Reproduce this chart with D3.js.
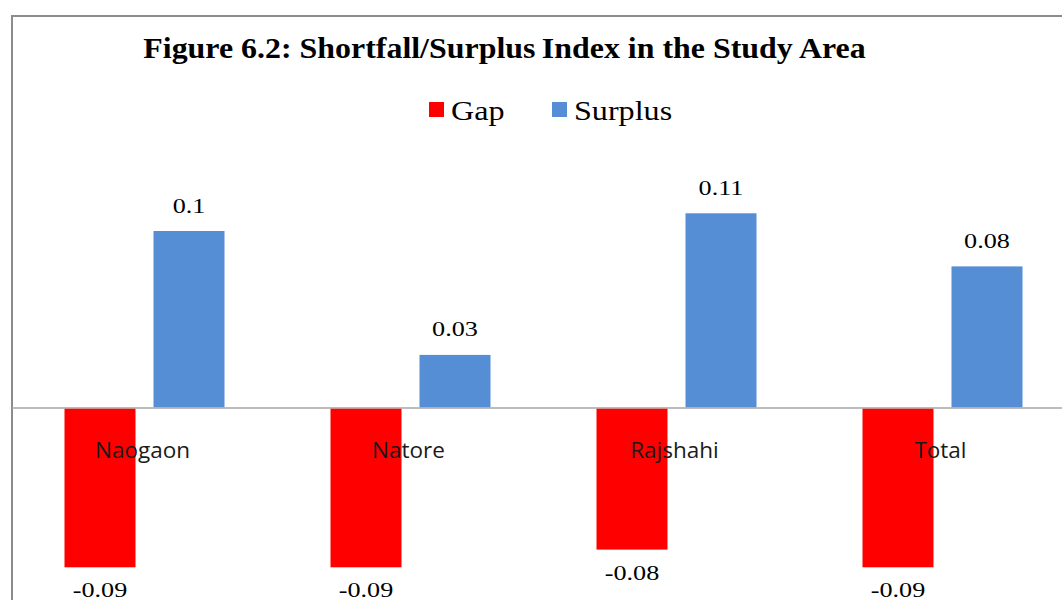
<!DOCTYPE html>
<html>
<head>
<meta charset="utf-8">
<script src="https://cdn.jsdelivr.net/npm/d3@7"></script>
<style>
  html, body { margin: 0; padding: 0; background: #fff; overflow: hidden; }
  svg { display: block; }
</style>
</head>
<body>
<svg id="chart"></svg>
<script>
// data
var districts = ["Naogaon", "Natore", "Rajshahi", "Total"];
var seriesNames = ["Gap", "Surplus"];
var gapValues = [-0.09, -0.09, -0.08, -0.09];
var surplusValues = [0.1, 0.03, 0.11, 0.08];
var seriesColors = ["#ff0000", "#558ed5"];

var width = 1062,
    height = 600;

// the serif texts in the source image are stretched sideways
var serifStretch = 1.19;

var svg = d3.select("#chart")
    .attr("width", width)
    .attr("height", height);

// frame (only left and top edges are visible in the crop)
svg.append("path")
    .attr("d", "M12,600 V16 H" + width)
    .attr("fill", "none")
    .attr("stroke", "#8c8c8c")
    .attr("stroke-width", 2);

// title
svg.append("text")
    .attr("transform", "translate(504.5,58) scale(1.12,1)")
    .attr("text-anchor", "middle")
    .style("font-family", "'Liberation Serif', 'Times New Roman', serif")
    .style("font-weight", "bold")
    .style("font-size", "28.5px")
    .text("Figure 6.2: Shortfall/Surplus\u2009Index in the Study Area");

// scales
var x0 = d3.scaleBand()
    .domain(districts)
    .range([11.5, 1075.5]);

var x1 = d3.scaleBand()
    .domain(seriesNames)
    .range([0, x0.bandwidth()])
    .paddingInner(0.2022)
    .paddingOuter(0.5955);

var y = d3.scaleLinear()
    .domain([-0.1, 0.12])
    .range([585, 195.6]);

var color = d3.scaleOrdinal()
    .domain(seriesNames)
    .range(seriesColors);

var rows = districts.map(function(d, i) {
    return { name: d, values: [
        { key: "Gap", value: gapValues[i] },
        { key: "Surplus", value: surplusValues[i] }
    ] };
});

// zero line
svg.append("line")
    .attr("x1", 12)
    .attr("x2", width)
    .attr("y1", y(0))
    .attr("y2", y(0))
    .attr("stroke", "#a6a6a6")
    .attr("stroke-width", 1.5);

var groups = svg.selectAll(".group")
    .data(rows)
    .enter().append("g")
    .attr("class", "group")
    .attr("transform", function(d) { return "translate(" + x0(d.name) + ",0)"; });

groups.selectAll("rect")
    .data(function(d) { return d.values; })
    .enter().append("rect")
    .attr("x", function(d) { return x1(d.key); })
    .attr("width", x1.bandwidth())
    .attr("y", function(d) { return d.value >= 0 ? y(d.value) : y(0) + 0.75; })
    .attr("height", function(d) { return Math.abs(y(d.value) - y(0)) - 0.75; })
    .attr("fill", function(d) { return color(d.key); });

// value labels
groups.selectAll(".val")
    .data(function(d) { return d.values; })
    .enter().append("text")
    .attr("class", "val")
    .attr("transform", function(d) {
        var lx = x1(d.key) + x1.bandwidth() / 2;
        var ly = d.value >= 0 ? y(d.value) - 18.5 : y(d.value) + 30;
        return "translate(" + lx + "," + ly + ") scale(" + serifStretch + ",1)";
    })
    .attr("text-anchor", "middle")
    .style("font-family", "'Liberation Serif', 'Times New Roman', serif")
    .style("font-size", "22px")
    .style("fill", "#000")
    .text(function(d) { return d.value; });

// category labels, drawn across the bars at the top of the negative side
groups.append("text")
    .attr("x", x0.bandwidth() / 2 - 2)
    .attr("y", 458)
    .attr("text-anchor", "middle")
    .style("font-family", "'Open Sans', sans-serif")
    .style("font-size", "22.5px")
    .style("fill", "#1a1a1a")
    .text(function(d) { return d.name; });

// legend
var legend = svg.append("g")
    .style("font-family", "'Liberation Serif', 'Times New Roman', serif")
    .style("font-size", "27px");

var legendX = [429, 552];
seriesNames.forEach(function(s, i) {
    legend.append("rect")
        .attr("x", legendX[i])
        .attr("y", 102)
        .attr("width", 15)
        .attr("height", 15)
        .attr("fill", color(s));
    legend.append("text")
        .attr("transform", "translate(" + (legendX[i] + 22) + ",120) scale(" + serifStretch + ",1)")
        .text(s);
});
</script>
</body>
</html>
